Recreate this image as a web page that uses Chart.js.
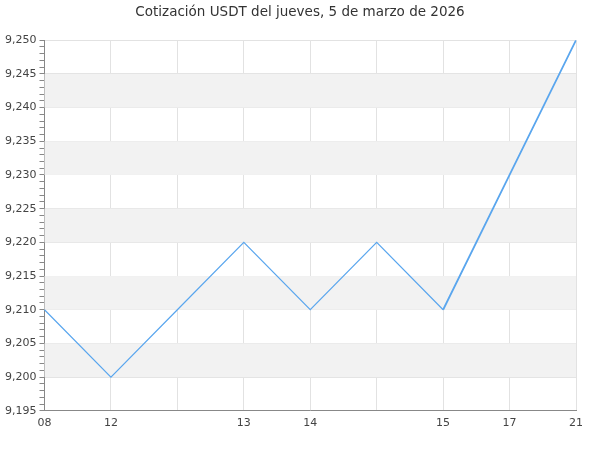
<!DOCTYPE html>
<html>
<head>
<meta charset="utf-8">
<script src="https://cdn.jsdelivr.net/npm/chart.js@4"></script>
<style>
  html,body{margin:0;padding:0;background:#fff;}
  #wrap{width:600px;height:450px;}
</style>
</head>
<body>
<div id="wrap"><canvas id="c"></canvas></div>
<script>
// horas del día (etiquetas vacías = puntos sin rótulo)
const labels = ["08","12","","13","14","","15","17","21"];
const precios = [9.210, 9.200, 9.210, 9.220, 9.210, 9.220, 9.210, 9.230, 9.250];
const yMin = 9.195, yMax = 9.250;
// franjas grises entre estas cotas
const bandas = [[9.240,9.245],[9.230,9.235],[9.220,9.225],[9.210,9.215],[9.200,9.205]];

const esMayor = v => Math.round(v*1000) % 5 === 0;

const bandPlugin = {
  id:"bandas",
  afterLayout(chart){
    // título centrado en todo el lienzo, no sólo en el área con padding
    const t = chart.titleBlock;
    if(t){ t.left = 0; t.right = chart.width; t.width = chart.width; }
  },
  beforeDatasetsDraw(chart){
    const {ctx, chartArea:a, scales:{y}} = chart;
    ctx.save();
    ctx.fillStyle = "#f2f2f2";
    bandas.forEach(([lo,hi])=>{
      const t = y.getPixelForValue(hi), b = y.getPixelForValue(lo);
      ctx.fillRect(a.left, t, a.right-a.left, b-t);
    });
    ctx.restore();
  }
};

Chart.defaults.font.family = "'DejaVu Sans', sans-serif";
Chart.defaults.color = "#444";

new Chart(document.getElementById("c"), {
  type:"line",
  data:{
    labels,
    datasets:[{
      data: precios,
      borderColor:"#5aa6ee",
      borderWidth:1.2,
      pointRadius:0,
      tension:0,
      segment:{ borderWidth: c => c.p0DataIndex >= 6 ? 1.8 : 1.2 }
    }]
  },
  options:{
    responsive:true, maintainAspectRatio:false, animation:false,
    layout:{padding:{left:2, right:24, top:0, bottom:14}},
    plugins:{
      legend:{display:false},
      tooltip:{enabled:false},
      title:{display:true, text:"Cotización USDT del jueves, 5 de marzo de 2026",
        color:"#333", font:{size:13.5, weight:"normal"}, padding:{top:4, bottom:20}}
    },
    scales:{
      x:{
        grid:{color:"#e2e2e2", drawTicks:false},
        border:{color:"#888"},
        ticks:{autoSkip:false, maxRotation:0, padding:6, font:{size:11}, color:"#444"}
      },
      y:{
        min:yMin, max:yMax,
        grid:{
          color: c => esMayor(c.tick.value) ? "#e2e2e2" : "rgba(0,0,0,0)",
          tickColor:"#888", tickLength:5
        },
        border:{color:"#888"},
        ticks:{
          stepSize:0.001, maxTicksLimit:100, autoSkip:false, padding:3,
          font:{size:11}, color:"#444",
          callback: v => esMayor(v) ? v.toFixed(3).replace(".", ",") : ""
        }
      }
    }
  },
  plugins:[bandPlugin]
});
</script>
</body>
</html>
